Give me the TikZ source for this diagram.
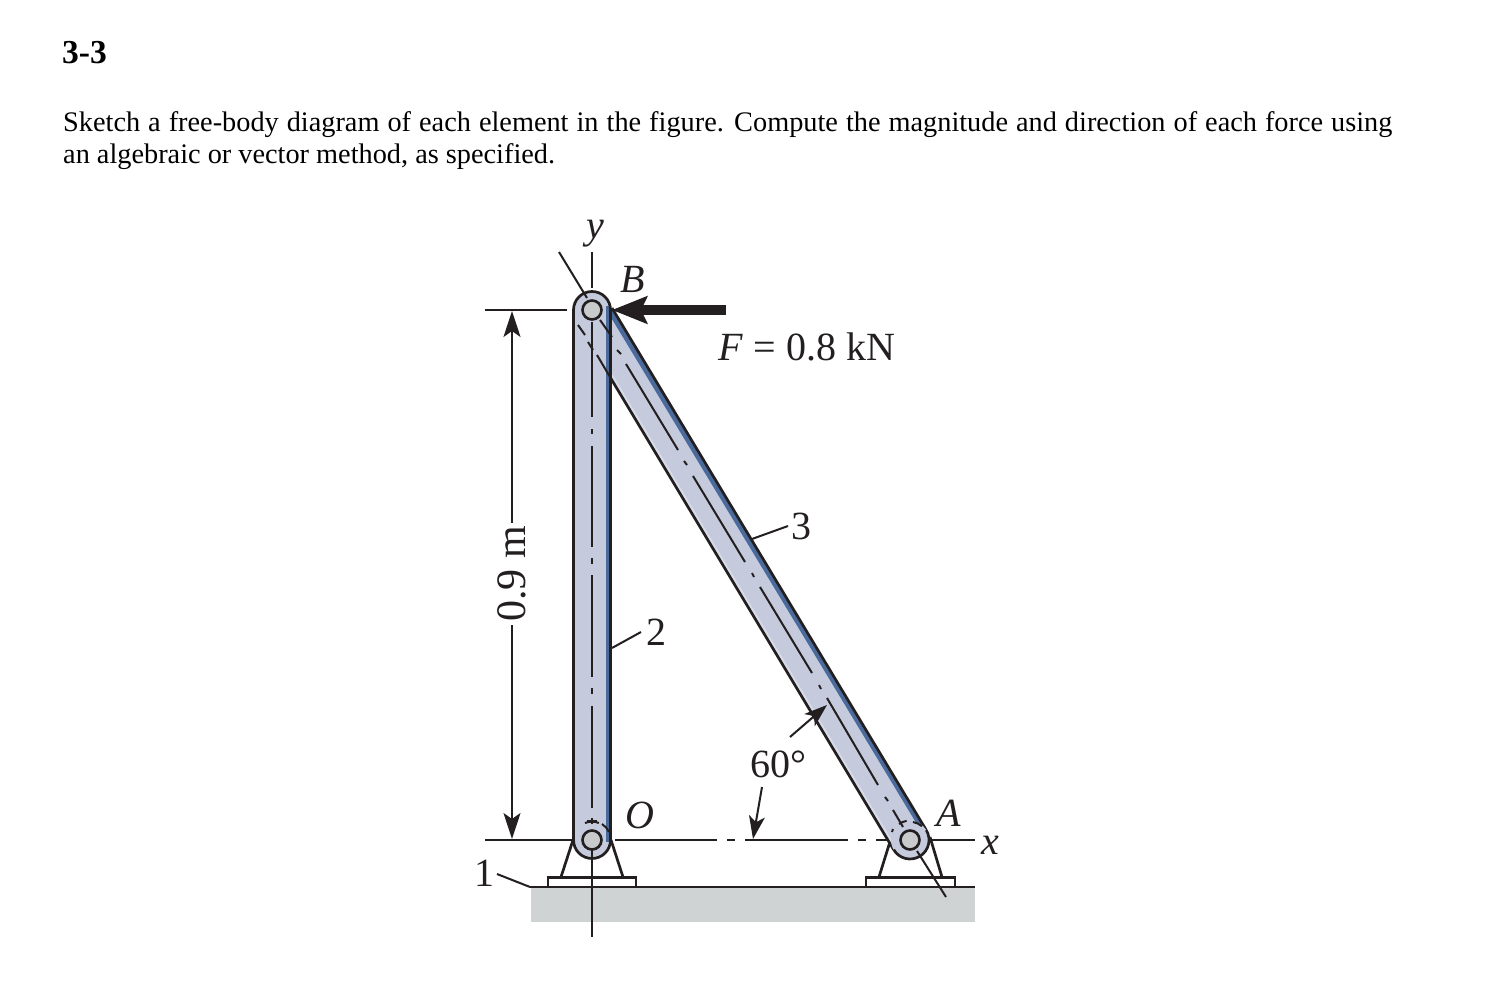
\documentclass[tikz,border=0pt]{standalone}
\usepackage{fontspec}
\setmainfont{Liberation Serif}
\usetikzlibrary{arrows.meta,calc}
\definecolor{barfill}{HTML}{C5CBDD}
\definecolor{barlight}{HTML}{D8DCE8}
\definecolor{barshade}{HTML}{4A6A9C}
\definecolor{pinfill}{HTML}{C9CACC}
\definecolor{groundfill}{HTML}{D0D3D4}
\definecolor{ink}{HTML}{231F20}
\tikzset{
  thin line/.style={draw=ink,line width=2pt},
  bar edge/.style={draw=ink,line width=2.7pt},
  center line/.style={draw=ink,line width=2pt},
  dim arrow/.style={thin line,-{Stealth[length=26pt,width=17pt,inset=6pt]}},
  small arrow/.style={thin line,-{Stealth[length=23pt,width=16pt,inset=6pt]}},
  force arrow/.style={draw=ink,line width=10pt,-{Stealth[length=35pt,width=27pt,inset=6pt]}},
  label/.style={font=\fontsize{40}{40}\selectfont,text=ink,inner sep=0pt},
  ilabel/.style={font=\fontsize{40}{40}\selectfont\itshape,text=ink,inner sep=0pt},
  para/.style={font=\fontsize{28.3}{32}\selectfont,text=black,inner sep=0pt,anchor=base west},
  pin/.style={circle,draw=ink,line width=2.6pt,fill=pinfill,minimum size=19pt,inner sep=0pt},
}
\begin{document}
\begin{tikzpicture}[x=1pt,y=-1pt]
\useasboundingbox (0,0) rectangle (1500,1000);
\node[para,font=\fontsize{33.5}{36}\selectfont\bfseries] (title) at (62,64) {3-3};
\node[para] (l1) at (63,132) {\spaceskip=0.283em Sketch a free-body diagram of each element in the figure. Compute the magnitude and direction of each force using};
\node[para] (l2) at (63,164) {an algebraic or vector method, as specified.};

% key points
\coordinate (O) at (592,840);
\coordinate (B) at (592,310);
\coordinate (A) at (910,840);

% ground
\fill[groundfill] (531,888) rectangle (975,922);
\coordinate (gl) at (530,887);
\coordinate (gr) at (975,887);
\draw[thin line,line width=2.6pt] (gl) -- (gr);

% supports
\draw[bar edge] (548,887) -- (548,877.5) -- (636,877.5) -- (636,887);
\draw[bar edge] (866,887) -- (866,877.5) -- (955,877.5) -- (955,887);
\draw[bar edge] (561,877) -- (573,840);
\draw[bar edge] (623,877) -- (611,840);
\draw[bar edge] (879,877) -- (893,832);
\draw[bar edge] (942,877) -- (930,837);

% axes behind the members
\coordinate (ax0) at (485,840);
\coordinate (ax1) at (574,840);
\draw[thin line] (ax0) -- (ax1);
\coordinate (ex0) at (485,310);
\coordinate (ex1) at (567,310);
\draw[thin line] (ex0) -- (ex1);
\draw[thin line] (615,840) -- (717,840);
\draw[thin line] (727,840) -- (735,840);
\draw[thin line] (745,840) -- (848,840);
\draw[thin line] (858,840) -- (866,840);
\draw[thin line] (876,840) -- (892,840);
\draw[thin line] (929,840) -- (975,840);

% diagonal member 3
\fill[barfill] (612,308) -- (591,345.3) -- (893.7,849.8) -- (926.3,830.2) -- cycle;
\fill[barlight] (609,375.3) -- (893.7,849.8) -- (896.7,848) -- (612,373.5) -- cycle;
\fill[barshade] (613,309.5) -- (608,312.5) -- (918,826) -- (922.5,823.5) -- cycle;
\draw[bar edge] (612,308) -- (926.3,830.2);
\draw[bar edge] (609,375.3) -- (893.7,849.8);
\fill[barfill] (A) circle[radius=19pt];
\draw[bar edge] (926.3,830.2) arc[start angle=31,end angle=-149,radius=19pt];

% vertical member 2
\fill[barfill] (573.5,840) -- (573.5,310) arc[start angle=180,end angle=0,radius=18.5pt] -- (610.5,840) arc[start angle=0,end angle=-180,radius=18.5pt] -- cycle;
\fill[barshade] (606,306) rectangle (610,842);
\draw[bar edge] (573.5,840) -- (573.5,310) arc[start angle=180,end angle=0,radius=18.5pt] -- (610.5,840);
\draw[bar edge] (610.5,840) arc[start angle=0,end angle=-180,radius=18.5pt];

% centre lines: vertical member
\coordinate (ytop) at (592,252);
\coordinate (yin) at (592,288);
\draw[thin line] (ytop) -- (yin);
\draw[center line] (592,322) -- (592,417) (592,429) -- (592,434) (592,446) -- (592,547) (592,558) -- (592,564) (592,575) -- (592,677) (592,688) -- (592,694) (592,706) -- (592,808);
\draw[center line] (587,821) -- (597,821) (592,818) -- (592,824);
\draw[thin line] (592,850) -- (592,937);

% centre lines: diagonal member
\coordinate (dtop) at (559,252);
\draw[thin line] (dtop) -- (587,298);
\draw[center line] (600,320) -- (612,337) (617,350) -- (621,354) (626,364) -- (678,450) (684,461) -- (687,465) (693,476) -- (745,562) (752,573) -- (754,577) (760,587) -- (812,673) (819,685) -- (821,689) (827,698) -- (878,785) (885,797) -- (888,801) (893,810) -- (903,827);
\draw[center line] (578,325) -- (585,335) (588,342) -- (593,350) (597,355) -- (610,377);
\draw[thin line] (917,851) -- (946,897);

% hidden circle arcs at the pins
\draw[center line] (585,823) arc[start angle=112,end angle=68,radius=18.5pt];
\draw[center line] (602,824) arc[start angle=58,end angle=25,radius=18.5pt];
\draw[center line] (899,824) arc[start angle=125,end angle=100,radius=19pt];
\draw[center line] (913,822) arc[start angle=80,end angle=50,radius=19pt];
\draw[center line] (892,832) -- (893,829);

% pins
\node[pin] (pinB) at (B) {};
\node[pin] (pinO) at (O) {};
\node[pin] (pinA) at (A) {};

% dimension 0.9 m
\node[label,rotate=90,font=\fontsize{42}{42}\selectfont] (dim) at (512,574) {0.9 m};
\coordinate (dimtop) at (512,311);
\coordinate (dimbot) at (512,839);
\draw[dim arrow] (dim.east) ++(0,-3) -- (dimtop);
\draw[dim arrow] (dim.west) ++(0,3) -- (dimbot);

% force
\coordinate (ftail) at (726,310);
\coordinate (ftip) at (612,310);
\draw[force arrow] (ftail) -- (ftip);

% labels
\node[ilabel] (ly) at (595,234) {y};
\node[ilabel] (lB) at (633,279) {B};
\node[label] (lF) at (807,347) {\textit{F} = 0.8 kN};
\node[label] (l3) at (801,526) {3};
\node[label] (l2n) at (656,632) {2};
\node[label] (l60) at (778,764) {60°};
\node[ilabel] (lO) at (640,815) {O};
\node[ilabel] (lA) at (949,813) {A};
\node[ilabel] (lx) at (990,845) {x};
\node[label] (l1n) at (484,873) {1};

% leaders
\coordinate (c3) at (752,539);
\coordinate (c2) at (612,648);
\draw[thin line] (c3) -- (788,526);
\draw[thin line] (c2) -- (641,632);
\draw[thin line] (497,874) -- (gl);

% 60 degree arrows
\coordinate (a1) at (790,737);
\coordinate (a2) at (827,705);
\coordinate (a3) at (762,787);
\coordinate (a4) at (753,839);
\draw[small arrow] (a1) -- (a2);
\draw[small arrow] (a3) -- (a4);
\end{tikzpicture}
\end{document}
